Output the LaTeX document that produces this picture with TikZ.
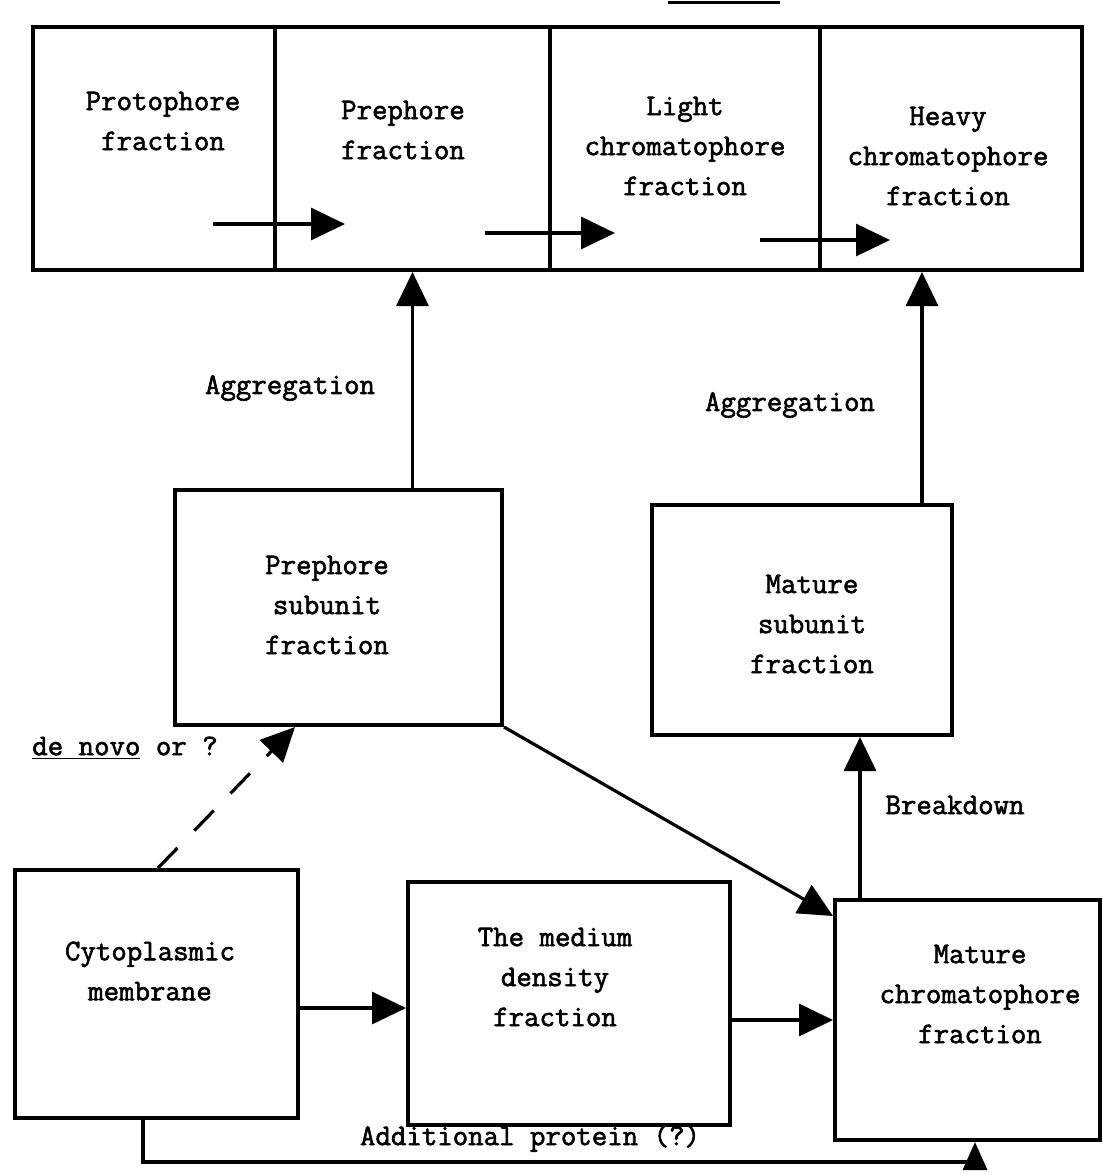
\documentclass[tikz,border=0pt]{standalone}
\usepackage{fontspec}
\newfontfamily\tw[FakeBold=2]{Latin Modern Mono}
\usetikzlibrary{arrows.meta,fit}
\begin{document}
\begin{tikzpicture}[x=0.5pt,y=-0.5pt,
 box/.style={draw, line width=2pt, inner sep=0pt},
 txt/.style={font=\tw\fontsize{15}{20}\selectfont, align=center, inner sep=0pt},
 arr/.style={line width=1.6pt, -{Triangle[length=17pt,width=16pt]}},
 sarr/.style={line width=1.6pt, -{Triangle[length=14pt,width=12pt]}},
]
\useasboundingbox (0,0) rectangle (1104,1175);
\fill[white] (0,0) rectangle (1104,1175);

% heading fragment
\draw[line width=1.5pt] (668,2) -- (780,2);

% top row
\node[box, fit={(33,27)(275,270)}] (t1) {};
\node[box, fit={(275,27)(550,270)}] (t2) {};
\node[box, fit={(550,27)(820,270)}] (t3) {};
\node[box, fit={(820,27)(1082,270)}] (t4) {};
\node[txt] (tx1) at (163,121) {Protophore\\fraction};
\node[txt] (tx2) at (403,130) {Prephore\\fraction};
\node[txt] (tx3) at (685,146) {Light\\chromatophore\\fraction};
\node[txt] (tx4) at (948,156) {Heavy\\chromatophore\\fraction};

\coordinate (a1s) at (213,224); \coordinate (a1e) at (345,224);
\coordinate (a2s) at (485,233); \coordinate (a2e) at (615,233);
\coordinate (a3s) at (760,240); \coordinate (a3e) at (890,240);
\draw[arr] (a1s) -- (a1e);
\draw[arr] (a2s) -- (a2e);
\draw[arr] (a3s) -- (a3e);

% middle boxes
\node[box, fit={(175,490)(502,725)}] (psub) {};
\node[txt] (tpsub) at (327,605) {Prephore\\subunit\\fraction};
\node[box, fit={(652,505)(952,735)}] (msub) {};
\node[txt] (tmsub) at (812,624) {Mature\\subunit\\fraction};

% bottom boxes
\node[box, fit={(15,870)(298,1118)}] (cyto) {};
\node[txt] (tcyto) at (150,971) {Cytoplasmic\\membrane};
\node[box, fit={(408,882)(730,1125)}] (med) {};
\node[txt] (tmed) at (555,977) {The medium\\density\\fraction};
\node[box, fit={(835,900)(1100,1140)}] (mchrom) {};
\node[txt] (tmchrom) at (980,994) {Mature\\chromatophore\\fraction};

% connectors
\coordinate (m1) at (922,0);
\coordinate (bk) at (860,0);
\coordinate (d1) at (158,0);
\coordinate (d2) at (295,0);
\coordinate (c1) at (143,0);
\coordinate (fb) at (975,1162);

\draw[arr] (psub.north -| t2.south) -- (t2.south);
\draw[arr] (msub.north -| m1) -- (t4.south -| m1);
\draw[arr] (mchrom.north -| bk) -- (msub.south -| bk);
\draw[arr] (psub.south east) -- ([yshift=-9pt]mchrom.north west);
\draw[arr] ([yshift=-7pt]cyto.east) -- ([yshift=-7pt]cyto.east -| med.west);
\draw[arr] (med.east |- mchrom.west) -- (mchrom.west);
\draw[arr, dash pattern=on 14pt off 12pt] (cyto.north -| d1) -- (psub.south -| d2);
\draw[sarr] (cyto.south -| c1) |- (fb) -- (mchrom.south -| fb);

% labels
\node[txt] (l1) at (290,388) {Aggregation};
\node[txt] (l2) at (790,405) {Aggregation};
\node[txt] (l3) at (955,805) {Breakdown};
\node[txt] (l4) at (125,748) {\underline{de novo} or ?};
\node[txt] (l5) at (530,1138) {Additional protein (?)};
\end{tikzpicture}
\end{document}
